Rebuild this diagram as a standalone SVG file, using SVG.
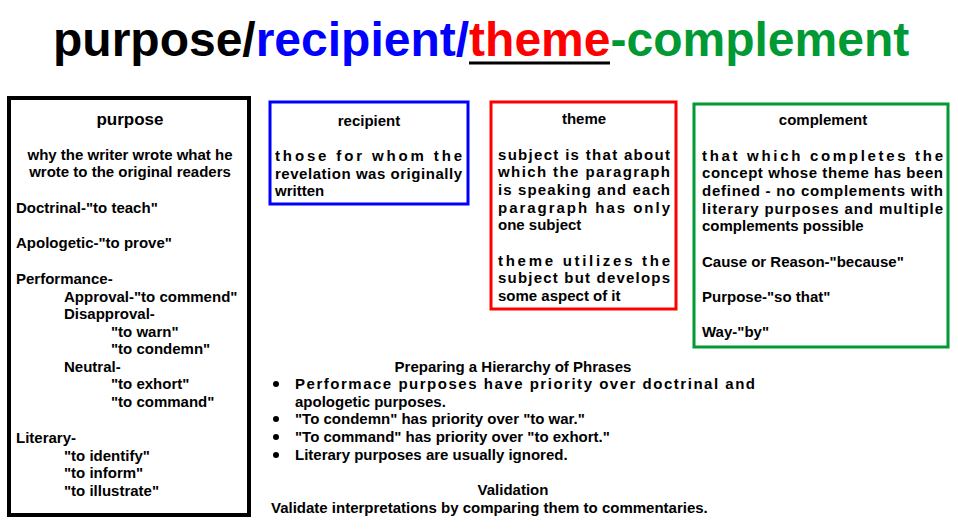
<svg xmlns="http://www.w3.org/2000/svg" width="958" height="529" viewBox="0 0 958 529">
<style>
text{font-family:"Liberation Sans",Arial,sans-serif;font-size:15px;font-weight:bold;fill:#000}
.h{text-anchor:middle}
.c{text-anchor:middle}
.box{fill:none}
</style>
<rect width="958" height="529" fill="#fff"/>
<g id="title"><text x="53" y="56" style="font-size:48px;font-weight:bold"><tspan>purpose/</tspan><tspan fill="#0000ff">recipient/</tspan><tspan fill="#ff0000">theme</tspan><tspan fill="#009933">-complement</tspan></text>
<line x1="469" y1="63" x2="610" y2="63" stroke="#000" stroke-width="3"/></g>
<g id="purpose">
<rect class="box" x="9" y="98" width="240" height="417" stroke="#000" stroke-width="4"/>
<text x="130" y="125" class="h" style="font-size:17px">purpose</text>
<text x="130" y="160" class="c">why the writer wrote what he</text>
<text x="130" y="177" class="c">wrote to the original readers</text>
<text x="16" y="213">Doctrinal-"to teach"</text>
<text x="16" y="248">Apologetic-"to prove"</text>
<text x="16" y="284">Performance-</text>
<text x="64" y="302">Approval-"to commend"</text>
<text x="64" y="319">Disapproval-</text>
<text x="111" y="337">"to warn"</text>
<text x="111" y="354">"to condemn"</text>
<text x="64" y="372">Neutral-</text>
<text x="111" y="389">"to exhort"</text>
<text x="111" y="407">"to command"</text>
<text x="16" y="443">Literary-</text>
<text x="64" y="461">"to identify"</text>
<text x="64" y="478">"to inform"</text>
<text x="64" y="496">"to illustrate"</text>
</g>
<g id="recipient">
<rect class="box" x="270" y="102" width="198" height="102" stroke="#0000ff" stroke-width="3"/>
<text x="369" y="126" class="c">recipient</text>
<text x="275" y="161" textLength="187" lengthAdjust="spacing">those for whom the</text>
<text x="275" y="179" textLength="187" lengthAdjust="spacing">revelation was originally</text>
<text x="275" y="196">written</text>
</g>
<g id="theme">
<rect class="box" x="491" y="102" width="185" height="207" stroke="#ff0000" stroke-width="3"/>
<text x="584" y="124" class="c">theme</text>
<text x="498" y="160" textLength="172" lengthAdjust="spacing">subject is that about</text>
<text x="498" y="177" textLength="172" lengthAdjust="spacing">which the paragraph</text>
<text x="498" y="195" textLength="172" lengthAdjust="spacing">is speaking and each</text>
<text x="498" y="213" textLength="172" lengthAdjust="spacing">paragraph has only</text>
<text x="498" y="230">one subject</text>
<text x="498" y="266" textLength="172" lengthAdjust="spacing">theme utilizes the</text>
<text x="498" y="283" textLength="172" lengthAdjust="spacing">subject but develops</text>
<text x="498" y="301">some aspect of it</text>
</g>
<g id="complement">
<rect class="box" x="694" y="104" width="254" height="243" stroke="#009933" stroke-width="3"/>
<text x="823" y="125" class="c">complement</text>
<text x="702" y="161" textLength="241" lengthAdjust="spacing">that which completes the</text>
<text x="702" y="178" textLength="241" lengthAdjust="spacing">concept whose theme has been</text>
<text x="702" y="196" textLength="241" lengthAdjust="spacing">defined - no complements with</text>
<text x="702" y="214" textLength="241" lengthAdjust="spacing">literary purposes and multiple</text>
<text x="702" y="231">complements possible</text>
<text x="702" y="267">Cause or Reason-"because"</text>
<text x="702" y="302">Purpose-"so that"</text>
<text x="702" y="337">Way-"by"</text>
</g>
<g id="hierarchy">
<text x="513" y="372" class="c">Preparing a Hierarchy of Phrases</text>
<g fill="#000"><circle cx="276" cy="384" r="3"/><circle cx="276" cy="419" r="3"/><circle cx="276" cy="437" r="3"/><circle cx="276" cy="455" r="3"/></g>
<text x="295" y="389" textLength="460" lengthAdjust="spacing">Performace purposes have priority over doctrinal and</text>
<text x="295" y="407">apologetic purposes.</text>
<text x="295" y="424">"To condemn" has priority over "to war."</text>
<text x="295" y="442">"To command" has priority over "to exhort."</text>
<text x="295" y="460">Literary purposes are usually ignored.</text>
</g>
<g id="validation">
<text x="513" y="495" class="c">Validation</text>
<text x="271" y="513">Validate interpretations by comparing them to commentaries.</text>
</g>
<g id="connectors"/>
</svg>
